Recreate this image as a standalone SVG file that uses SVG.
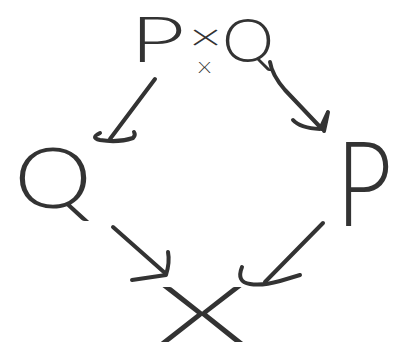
<svg xmlns="http://www.w3.org/2000/svg" width="396" height="356" viewBox="0 0 396 356">
  <style>
    .lbl { font-family: "Lato", "Open Sans", "DejaVu Sans", sans-serif; font-weight: 300; fill: #333; }
    .ink { fill: none; stroke: #333; stroke-width: 4; stroke-linecap: round; stroke-linejoin: round; }
  </style>
  <rect width="396" height="356" fill="#fff"/>

  <!-- pullback object P ×_X Q -->
  <g id="node-pullback">
    <text class="lbl" x="130" y="62" font-size="64" textLength="55" lengthAdjust="spacingAndGlyphs">P</text>
    <text class="lbl" x="189" y="50" font-size="38" textLength="33" lengthAdjust="spacingAndGlyphs">×</text>
    <text class="lbl" x="198" y="73" font-size="15" textLength="13" lengthAdjust="spacingAndGlyphs">X</text>
    <text class="lbl" x="222" y="62" font-size="62" textLength="52" lengthAdjust="spacingAndGlyphs">Q</text>
  </g>

  <g id="node-q">
    <text class="lbl" x="14" y="208" font-size="84" textLength="78" lengthAdjust="spacingAndGlyphs">Q</text>
  </g>

  <g id="node-p">
    <text class="lbl" x="336" y="226" font-size="118" textLength="56" lengthAdjust="spacingAndGlyphs">P</text>
  </g>

  <g id="node-x">
    <text class="lbl" x="158" y="342" font-size="76" textLength="88" lengthAdjust="spacingAndGlyphs">X</text>
  </g>

  <!-- hand-drawn morphisms -->
  <g id="connectors">
    <path class="ink" d="M155 79 L110 139"/>
    <path class="ink" d="M100 133 Q90 138 100 140 Q118 143 133 138 Q136 135 134 132"/>

    <path class="ink" d="M270 62 Q272 75 285 90 L322 129"/>
    <path class="ink" d="M293 120 Q300 128 320 129 L328 112 Q326 122 324 131"/>

    <path class="ink" d="M113 227 L165 273"/>
    <path class="ink" d="M132 280 L166 275 Q170 262 168 252"/>

    <path class="ink" d="M323 223 L265 282"/>
    <path class="ink" d="M242 267 Q236 282 250 284 Q262 286 280 281 L300 275"/>
  </g>
</svg>
